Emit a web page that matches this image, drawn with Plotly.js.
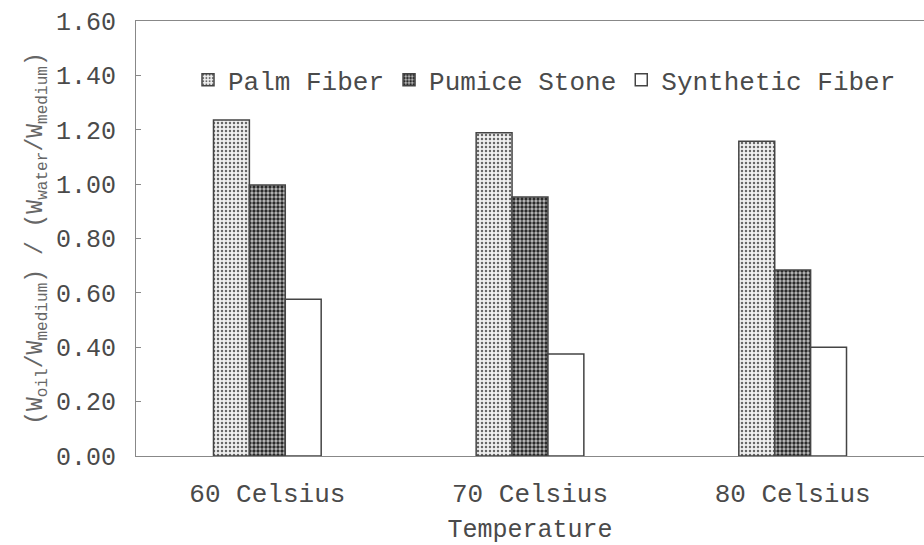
<!DOCTYPE html>
<html>
<head>
<meta charset="utf-8">
<script src="https://cdn.plot.ly/plotly-3.0.1.min.js"></script>
<style>html,body{margin:0;padding:0;background:#fff;}#chart{width:924px;height:545px;}</style>
</head>
<body>
<div id="chart"></div>
<script>
var categories = ["60 Celsius", "70 Celsius", "80 Celsius"];
var palmFiber = [1.236, 1.189, 1.158];
var pumiceStone = [0.997, 0.953, 0.684];
var syntheticFiber = [0.577, 0.375, 0.400];
var yTicks = [0, 0.2, 0.4, 0.6, 0.8, 1.0, 1.2, 1.4, 1.6];
var yTickText = ["0.00", "0.20", "0.40", "0.60", "0.80", "1.00", "1.20", "1.40", "1.60"];

var FONT = '"Courier New", "Liberation Mono", "DejaVu Sans Mono", monospace';
var lineCol = '#444';
var txtCol = '#4a4a4a';

var traces = [
  {type: 'bar', name: 'Palm Fiber', x: categories, y: palmFiber,
   marker: {color: '#eeeeee', line: {color: lineCol, width: 1.5},
            pattern: {shape: '.', fgcolor: '#666', bgcolor: '#f0f0f0', size: 4, solidity: 0.3}}},
  {type: 'bar', name: 'Pumice Stone', x: categories, y: pumiceStone,
   marker: {color: '#999999', line: {color: lineCol, width: 1.5},
            pattern: {shape: '.', fgcolor: '#2a2a2a', bgcolor: '#bdbdbd', size: 4, solidity: 0.55}}},
  {type: 'bar', name: 'Synthetic Fiber', x: categories, y: syntheticFiber,
   marker: {color: '#ffffff', line: {color: lineCol, width: 1.5}}}
];

var layout = {
  width: 924, height: 545,
  margin: {l: 136, r: 0, t: 21, b: 89},
  paper_bgcolor: '#fff', plot_bgcolor: '#fff',
  font: {family: FONT, color: txtCol, size: 24},
  barmode: 'group',
  bargap: 0.59, bargroupgap: 0,
  showlegend: true,
  legend: {orientation: 'h', x: 0.066, xanchor: 'left', y: 0.865, yanchor: 'middle',
           font: {family: FONT, size: 26, color: txtCol}, bgcolor: 'rgba(0,0,0,0)',
           itemwidth: 30, tracegroupgap: 0},
  xaxis: {
    type: 'category',
    showline: true, linecolor: '#888', linewidth: 1, mirror: true,
    ticks: '', showgrid: false, zeroline: false,
    ticklabelstandoff: 14,
    tickfont: {family: FONT, size: 26, color: txtCol},
    title: {text: 'Temperature', font: {family: FONT, size: 25, color: txtCol}, standoff: 14}
  },
  yaxis: {
    range: [0, 1.6],
    tickvals: yTicks, ticktext: yTickText,
    showline: true, linecolor: '#888', linewidth: 1, mirror: true,
    ticks: 'inside', ticklen: 5, tickcolor: '#888',
    showgrid: false, zeroline: false,
    tickfont: {family: FONT, size: 25, color: txtCol},
    ticklabelstandoff: 14,
    title: {text: '(W<sub>oil</sub>/W<sub>medium</sub>) / (W<sub>water</sub>/W<sub>medium</sub>)',
            font: {family: FONT, size: 23, color: '#666'}, standoff: 6}
  }
};

Plotly.newPlot('chart', traces, layout, {displayModeBar: false, staticPlot: true});
</script>
</body>
</html>
